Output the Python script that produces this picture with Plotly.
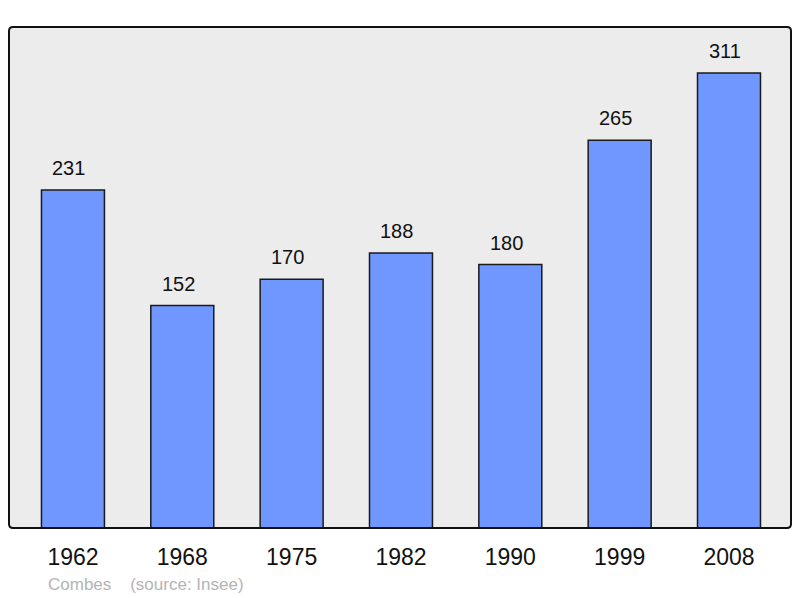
import plotly.graph_objects as go

years = ["1962", "1968", "1975", "1982", "1990", "1999", "2008"]
population = [231, 152, 170, 188, 180, 265, 311]
footer_text = "Combes\u00a0\u00a0\u00a0\u00a0(source: Insee)"

fig = go.Figure()
fig.add_trace(go.Bar(
    x=list(range(len(years))), y=population,
    width=0.576,
    marker=dict(color="#7096ff", line=dict(color="#1a1a1a", width=1.5)),
    hoverinfo="skip",
))

for i, v in enumerate(population):
    fig.add_annotation(x=i, y=v, text=str(v), showarrow=False,
                       yanchor="bottom", yshift=9, xshift=-4,
                       font=dict(size=20, color="#111", family="Liberation Sans, Arial"))

fig.add_annotation(xref="paper", yref="paper", x=0.047, y=-0.1118,
                   xanchor="left", yanchor="middle", text=footer_text, showarrow=False,
                   font=dict(size=17, color="#b4b4b4", family="Liberation Sans, Arial"))

# rounded frame around the plot area
rx, ry = 4 / 782, 4 / 501
path = (f"M {rx},0 L {1-rx},0 Q 1,0 1,{ry} L 1,{1-ry} Q 1,1 {1-rx},1 "
        f"L {rx},1 Q 0,1 0,{1-ry} L 0,{ry} Q 0,0 {rx},0 Z")
fig.add_shape(type="path", xref="paper", yref="paper", path=path,
              line=dict(color="#111", width=2), layer="above")

# the page body has an 8px margin, so the figure is sized/margined to compensate
fig.update_layout(
    width=792, height=590,
    margin=dict(l=1, r=9, t=19, b=70),
    paper_bgcolor="white", plot_bgcolor="#ececec",
    showlegend=False,
    xaxis=dict(range=[-0.585, 6.567], tickmode="array",
               tickvals=list(range(len(years))), ticktext=years,
               ticks="outside", ticklen=8, tickcolor="rgba(0,0,0,0)",
               showgrid=False, zeroline=False,
               tickfont=dict(size=23, color="#111", family="Liberation Sans, Arial")),
    yaxis=dict(range=[0, 342.4], visible=False, showgrid=False, zeroline=False),
)

fig.write_html("out.html")
